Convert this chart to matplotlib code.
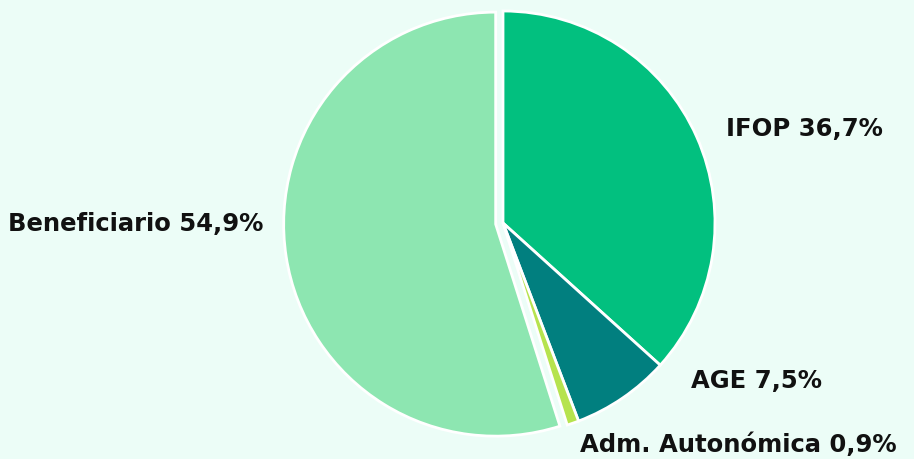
import matplotlib
matplotlib.use("Agg")
import matplotlib.pyplot as plt

labels = ["IFOP", "AGE", "Adm. Autonómica", "Beneficiario"]
shares = [36.7, 7.5, 0.9, 54.9]
colors = ["#02c07f", "#017f7f", "#b6e34e", "#8de6b1"]
explode = [0, 0, 0, 0.035]

plt.rcParams["font.family"] = ["DejaVu Sans"]

fig = plt.figure(figsize=(9.14, 4.6), dpi=100)
fig.patch.set_facecolor("#ecfdf7")

# pie centre at (503, 224) px, radius ~212 px
cx, cy, r = 503, 224, 212
ax = fig.add_axes([(cx - r) / 914, (460 - cy - r) / 460, 2 * r / 914, 2 * r / 460])

wedges, _ = ax.pie(shares, colors=colors, explode=explode, startangle=90,
                   counterclock=False, radius=1,
                   wedgeprops=dict(edgecolor="white", linewidth=2))
for w in wedges:
    w.set_clip_on(False)
ax.set_xlim(-1, 1)
ax.set_ylim(-1, 1)
ax.axis("off")

# label positions in data units (x, y, ha)
pos = [(1.05, 0.45, "left"), (0.885, -0.74, "left"),
       (0.365, -1.04, "left"), (-1.13, 0.0, "right")]
for lab, val, (x, y, ha) in zip(labels, shares, pos):
    txt = lab + " " + f"{val:.1f}".replace(".", ",") + "%"
    ax.text(x, y, txt, ha=ha, va="center", fontsize=17.5, fontweight="bold",
            color="#111111", clip_on=False)

fig.savefig("out.png", dpi=100, facecolor=fig.get_facecolor())
